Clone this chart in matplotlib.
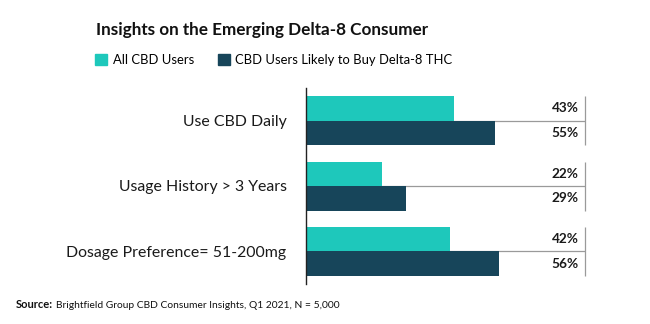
import matplotlib
matplotlib.use("Agg")
import matplotlib.pyplot as plt
from matplotlib.patches import Patch

plt.rcParams['font.family'] = ['Lato', 'DejaVu Sans']

categories = ["Use CBD Daily", "Usage History > 3 Years", "Dosage Preference= 51-200mg"]
all_users = [43, 22, 42]
likely_delta8 = [55, 29, 56]
series_names = ["All CBD Users", "CBD Users Likely to Buy Delta-8 THC"]
title = "Insights on the Emerging Delta-8 Consumer"

CYAN = "#1ec8bb"
NAVY = "#17455a"
GRID = "#9a9a9a"

fig = plt.figure(figsize=(6.5, 3.24), dpi=100)
ax = fig.add_axes([306 / 650, 1 - 284 / 324, 344 / 650, 196 / 324])

bar_h = 0.375
table_edge = 81
ys = list(range(len(categories)))

for y in ys:
    # divider between the two bars of a group and the closing rule on the right
    ax.hlines(y, 0, table_edge, color=GRID, lw=0.9, zorder=1)
    ax.vlines(table_edge, y - bar_h, y + bar_h, color=GRID, lw=0.9, zorder=1)

ax.barh([y - bar_h / 2 for y in ys], all_users, height=bar_h, color=CYAN, zorder=2)
ax.barh([y + bar_h / 2 for y in ys], likely_delta8, height=bar_h, color=NAVY, zorder=2)

for y, a, b in zip(ys, all_users, likely_delta8):
    ax.text(table_edge - 1.8, y - bar_h / 2, f"{a}%", ha="right", va="center",
            fontsize=9.8, fontweight="bold", color="#1a1a1a")
    ax.text(table_edge - 1.8, y + bar_h / 2, f"{b}%", ha="right", va="center",
            fontsize=9.8, fontweight="bold", color="#1a1a1a")

ax.set_xlim(0, 100)
ax.set_ylim(2.5, -0.5)
ax.set_yticks(ys)
ax.set_yticklabels(categories, fontsize=11.4, color="#1a1a1a")
ax.tick_params(axis="y", length=0, pad=14)
ax.set_xticks([])
for side in ["top", "right", "bottom"]:
    ax.spines[side].set_visible(False)
ax.spines["left"].set_color("#222222")
ax.spines["left"].set_linewidth(1.0)

fig.text(262 / 650, 1 - 30 / 324, title, ha="center", va="center",
         fontsize=12.3, fontweight="bold", color="#111111")

handles = [Patch(color=CYAN), Patch(color=NAVY)]
fig.legend(handles, series_names, loc="center", bbox_to_anchor=(274 / 650, 1 - 60 / 324),
           ncol=2, frameon=False, fontsize=9.4, handlelength=0.9, handleheight=0.9,
           handletextpad=0.45, columnspacing=1.8)

fig.text(16 / 650, 1 - 305 / 324, "Source:", ha="left", va="center",
         fontsize=8.0, fontweight="bold", color="#111111")
fig.text(56 / 650, 1 - 305 / 324, "Brightfield Group CBD Consumer Insights, Q1 2021, N = 5,000",
         ha="left", va="center", fontsize=7.4, color="#111111")

fig.savefig("out.png", dpi=100)
